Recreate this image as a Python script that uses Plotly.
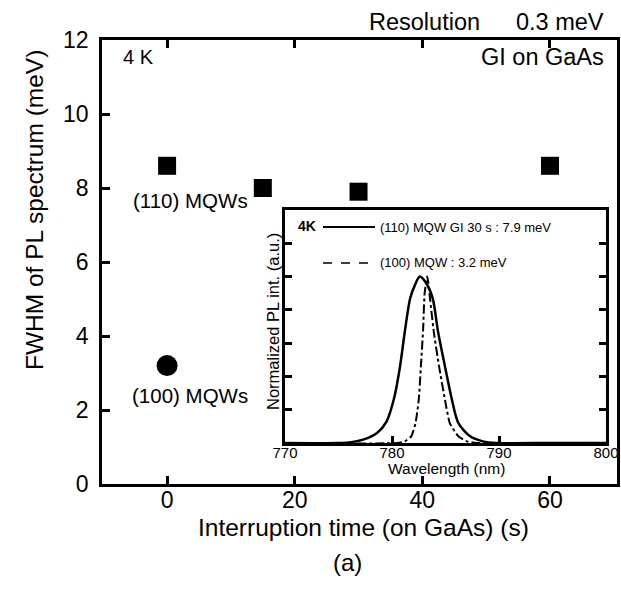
import plotly.graph_objects as go

# ---- main data ----
gi_time_110 = [0, 15, 30, 60]
fwhm_110 = [8.6, 8.0, 7.9, 8.6]
gi_time_100 = [0]
fwhm_100 = [3.2]

x_ticks = [0, 20, 40, 60]
y_ticks = [0, 2, 4, 6, 8, 10, 12]
right_ticks = [0.5, 3, 5.5, 8, 10.5]

# ---- inset spectra ----
wl_110 = [770, 775.0, 776.2, 777.3, 778.6, 779.5, 780.2, 780.75, 781.2, 781.7, 782.15, 782.6,
          783.2, 783.8, 784.3, 784.95, 785.6, 786.2, 787.3, 788.5, 789.8, 795, 800]
pl_110 = [0, 0, 0.005, 0.02, 0.06, 0.13, 0.27, 0.46, 0.67, 0.87, 0.95, 1.0,
          0.96, 0.87, 0.67, 0.46, 0.26, 0.12, 0.04, 0.01, 0.0, 0, 0]
wl_100 = [770, 780.5, 781.2, 781.8, 782.2, 782.5, 782.7, 782.9, 783.05, 783.3, 783.55,
          783.9, 784.4, 784.95, 785.4, 786.2, 787.0, 787.9, 790, 800]
pl_100 = [0, 0, 0.01, 0.04, 0.12, 0.26, 0.46, 0.67, 0.9, 1.0, 0.87,
          0.67, 0.46, 0.26, 0.12, 0.04, 0.01, 0, 0, 0]
inset_x_ticks = [770, 780, 790, 800]

W, H = 621, 599
FONT = "Arial, Liberation Sans, sans-serif"

def px_x(p):
    return p / W

def px_y(p):
    return 1 - p / H

fig = go.Figure()

fig.add_trace(go.Scatter(x=gi_time_110, y=fwhm_110, mode="markers",
                         marker=dict(symbol="square", size=18, color="black"),
                         xaxis="x", yaxis="y", showlegend=False))
fig.add_trace(go.Scatter(x=gi_time_100, y=fwhm_100, mode="markers",
                         marker=dict(symbol="circle", size=21, color="black"),
                         xaxis="x", yaxis="y", showlegend=False))

fig.add_trace(go.Scatter(x=wl_110, y=pl_110, mode="lines",
                         line=dict(color="black", width=2.5, shape="spline", smoothing=0.8),
                         xaxis="x2", yaxis="y2", showlegend=False))
fig.add_trace(go.Scatter(x=wl_100, y=pl_100, mode="lines",
                         line=dict(color="black", width=2, dash="dashdot", shape="spline", smoothing=0.5),
                         xaxis="x2", yaxis="y2", showlegend=False))

main_x_dom = [px_x(102), px_x(617)]
main_y_dom = [px_y(484), px_y(40)]
ins_x_dom = [px_x(285), px_x(606)]
ins_y_dom = [px_y(443), px_y(210)]

common = dict(showgrid=False, zeroline=False, automargin=False, tickcolor="black",
              linecolor="black", showline=True)

fig.update_layout(
    template="none",
    width=W, height=H,
    margin=dict(l=0, r=0, t=0, b=0),
    paper_bgcolor="white", plot_bgcolor="white",
    font=dict(family=FONT, color="black"),
    xaxis=dict(domain=main_x_dom, range=[-10.2, 70.5], tickvals=x_ticks,
               ticks="inside", ticklen=8, tickwidth=2.5, linewidth=2.5, mirror="ticks",
               tickfont=dict(size=23), anchor="y", ticklabelstandoff=-6, **common),
    yaxis=dict(domain=main_y_dom, range=[0, 12], tickvals=y_ticks,
               ticks="inside", ticklen=8, tickwidth=2.5, linewidth=2.5, mirror=True,
               tickfont=dict(size=23), anchor="x", ticklabelstandoff=6, **common),
    yaxis3=dict(overlaying="y", side="right", anchor="x", range=[0, 12],
                tickvals=right_ticks, showticklabels=False, ticks="inside",
                ticklen=8, tickwidth=2.5, tickcolor="black", showline=False,
                showgrid=False, zeroline=False, automargin=False),
    xaxis2=dict(domain=ins_x_dom, range=[770, 800], tickvals=inset_x_ticks,
                ticks="inside", ticklen=7, tickwidth=2.5, linewidth=2.5, mirror=True,
                tickfont=dict(size=15), anchor="y2", ticklabelstandoff=-6, **common),
    yaxis2=dict(domain=ins_y_dom, range=[0, 1.4], dtick=0.2,
                ticks="inside", ticklen=7, tickwidth=2.5, linewidth=2.5, mirror="ticks",
                showticklabels=False, anchor="x2", **common),
)

ann = []
def add_text(text, x, y, size, xanchor="center", yanchor="middle", angle=0, bold=False):
    t = f"<b>{text}</b>" if bold else text
    ann.append(dict(text=t, x=px_x(x), y=px_y(y), xref="paper", yref="paper",
                    xanchor=xanchor, yanchor=yanchor, showarrow=False, textangle=angle,
                    font=dict(size=size, family=FONT, color="black")))

add_text("Resolution", 367, 22, 23.5, xanchor="left")
add_text("0.3 meV", 606, 22, 23.5, xanchor="right")
add_text("4 K", 121, 57, 20, xanchor="left")
add_text("GI on GaAs", 606, 57, 23.5, xanchor="right")
add_text("(110) MQWs", 190, 200, 20.5)
add_text("(100) MQWs", 190, 395, 20.5)
add_text("FWHM of PL spectrum (meV)", 35, 210, 24.5, angle=-90)
add_text("Interruption time (on GaAs) (s)", 363, 527, 24.5)
add_text("(a)", 347, 562, 24)
# inset texts
add_text("4K", 296, 226, 14, xanchor="left", bold=True)
add_text("(110) MQW GI 30 s : 7.9 meV", 378, 227, 13, xanchor="left")
add_text("(100) MQW : 3.2 meV", 378, 262, 13, xanchor="left")
add_text("Wavelength (nm)", 446, 468, 15.5)
add_text("Normalized PL int. (a.u.)", 273, 322, 16.5, angle=-90)
fig.update_layout(annotations=ann)

# legend key lines for inset
fig.add_shape(type="line", xref="paper", yref="paper",
              x0=px_x(323), x1=px_x(375), y0=px_y(227), y1=px_y(227),
              line=dict(color="black", width=2))
fig.add_shape(type="line", xref="paper", yref="paper",
              x0=px_x(323), x1=px_x(375), y0=px_y(263), y1=px_y(263),
              line=dict(color="black", width=1.5, dash="dash"))

fig.write_html("out.html")
